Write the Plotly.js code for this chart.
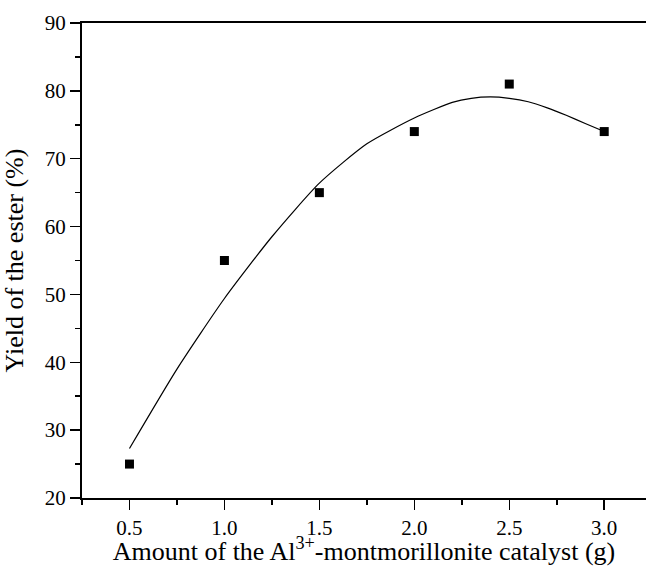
<!DOCTYPE html>
<html>
<head>
<meta charset="utf-8">
<script src="https://cdn.plot.ly/plotly-3.0.1.min.js"></script>
<style>html,body{margin:0;padding:0;background:#fff;}#chart{width:646px;height:566px;}</style>
</head>
<body>
<div id="chart"></div>
<script>
// Measured data points
var catalystAmount = [0.5, 1.0, 1.5, 2.0, 2.5, 3.0];
var esterYield = [25, 55, 65, 74, 81, 74];

// Fitted curve
var fitX = [0.5, 0.75, 1.0, 1.25, 1.5, 1.75, 2.0, 2.2, 2.3, 2.4, 2.5, 2.6, 2.7, 2.8, 2.9, 3.0];
var fitY = [27.3, 39.0, 49.4, 58.5, 66.4, 72.2, 76.0, 78.3, 78.9, 79.1, 78.9, 78.4, 77.5, 76.4, 75.2, 74.0];

var fontFam = 'Liberation Serif, Times New Roman, serif';

var traces = [
  {
    x: fitX, y: fitY, type: 'scatter', mode: 'lines',
    line: {color: '#000', width: 1.2, shape: 'spline', smoothing: 0.6},
    hoverinfo: 'skip', showlegend: false
  },
  {
    x: catalystAmount, y: esterYield, type: 'scatter', mode: 'markers',
    marker: {symbol: 'square', size: 9, color: '#000'},
    showlegend: false
  }
];

var layout = {
  width: 646, height: 566,
  margin: {l: 82, r: 0, t: 23, b: 68, pad: 0},
  paper_bgcolor: '#fff', plot_bgcolor: '#fff',
  font: {family: fontFam, color: '#000', size: 21},
  showlegend: false,
  xaxis: {
    range: [0.25, 3.22],
    tickmode: 'linear', tick0: 0.5, dtick: 0.5, tickformat: '.1f',
    ticks: 'outside', ticklen: 10, tickwidth: 1.5, tickcolor: '#000',
    minor: {ticks: 'outside', ticklen: 5, tickwidth: 1.5, tickcolor: '#000', dtick: 0.25, tick0: 0.25, showgrid: false},
    showline: true, linecolor: '#000', linewidth: 2, mirror: true,
    showgrid: false, zeroline: false,
    tickfont: {family: fontFam, size: 21, color: '#000'},
    title: {text: 'Amount of the Al<sup>3+</sup>-montmorillonite catalyst (g)', font: {family: fontFam, size: 26, color: '#000'}}
  },
  yaxis: {
    range: [20, 90],
    tickmode: 'linear', tick0: 20, dtick: 10,
    ticks: 'outside', ticklen: 10, tickwidth: 1.5, tickcolor: '#000',
    minor: {ticks: 'outside', ticklen: 5, tickwidth: 1.5, tickcolor: '#000', dtick: 5, tick0: 20, showgrid: false},
    showline: true, linecolor: '#000', linewidth: 2, mirror: false,
    showgrid: false, zeroline: false,
    tickfont: {family: fontFam, size: 21, color: '#000'},
    title: {text: 'Yield of the ester (%)', font: {family: fontFam, size: 26, color: '#000'}}
  }
};

Plotly.newPlot('chart', traces, layout, {displayModeBar: false, staticPlot: true});
</script>
</body>
</html>
